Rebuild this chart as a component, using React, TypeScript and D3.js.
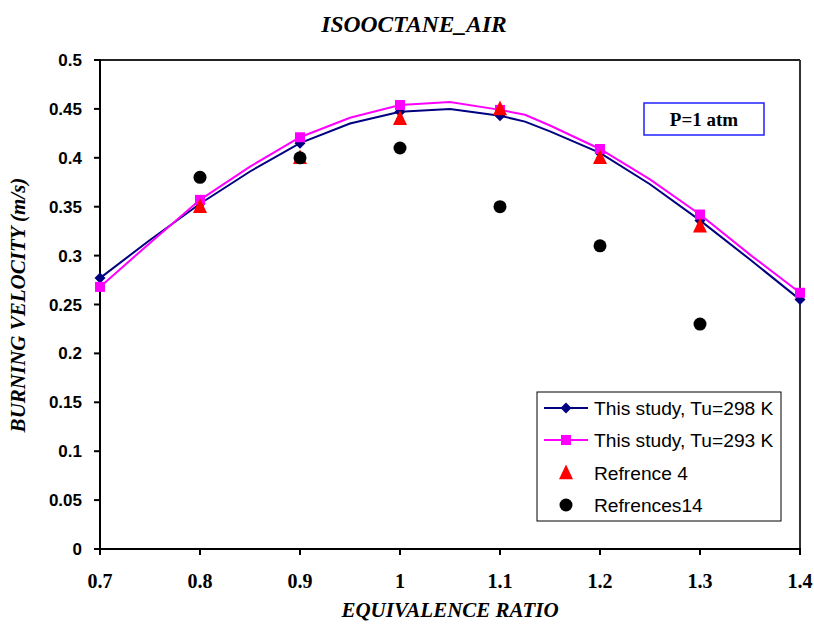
import React from "react";
import * as d3 from "d3";

// Computed flame speed curves (fine grid), equivalence ratio vs burning velocity
const phiFine = [0.7, 0.75, 0.8, 0.85, 0.9, 0.95, 1.0, 1.05, 1.1, 1.125, 1.15, 1.2, 1.25, 1.3, 1.35, 1.4];
const study298 = [0.277, 0.316, 0.353, 0.386, 0.415, 0.435, 0.447, 0.45, 0.443, 0.437, 0.427, 0.405, 0.373, 0.336, 0.296, 0.255];
const study293 = [0.268, 0.313, 0.357, 0.391, 0.421, 0.441, 0.454, 0.457, 0.449, 0.444, 0.433, 0.409, 0.378, 0.342, 0.301, 0.262];

// Marker positions of the computed series
const phiMarks = [0.7, 0.8, 0.9, 1.0, 1.1, 1.2, 1.3, 1.4];
const marks298 = [0.277, 0.353, 0.415, 0.447, 0.443, 0.405, 0.336, 0.255];
const marks293 = [0.268, 0.357, 0.421, 0.454, 0.449, 0.409, 0.342, 0.262];

// Literature data
const phiRef = [0.8, 0.9, 1.0, 1.1, 1.2, 1.3];
const ref4 = [0.35, 0.4, 0.44, 0.45, 0.4, 0.33];
const ref14 = [0.38, 0.4, 0.41, 0.35, 0.31, 0.23];

const xTicks = [0.7, 0.8, 0.9, 1.0, 1.1, 1.2, 1.3, 1.4];
const xTickLabels = ["0.7", "0.8", "0.9", "1", "1.1", "1.2", "1.3", "1.4"];
const yTicks = [0, 0.05, 0.1, 0.15, 0.2, 0.25, 0.3, 0.35, 0.4, 0.45, 0.5];
const yTickLabels = ["0", "0.05", "0.1", "0.15", "0.2", "0.25", "0.3", "0.35", "0.4", "0.45", "0.5"];

const legendLabels = ["This study, Tu=298 K", "This study, Tu=293 K", "Refrence 4", "Refrences14"];

const W = 814;
const H = 624;
const left = 100, right = 800, top = 60, bottom = 549;

const BLUE = "#000080";
const MAGENTA = "#FF00FF";
const RED = "#FF0000";

export default function App() {
  const x = d3.scaleLinear().domain([0.7, 1.4]).range([left, right]);
  const y = d3.scaleLinear().domain([0, 0.5]).range([bottom, top]);

  const line = d3
    .line<[number, number]>()
    .x((d) => x(d[0]))
    .y((d) => y(d[1]));

  const path298 = line(phiFine.map((p, i) => [p, study298[i]]) as [number, number][]) || "";
  const path293 = line(phiFine.map((p, i) => [p, study293[i]]) as [number, number][]) || "";

  const diamond = (cx: number, cy: number, r: number) =>
    `M${cx},${cy - r}L${cx + r},${cy}L${cx},${cy + r}L${cx - r},${cy}Z`;
  const triangle = (cx: number, cy: number, s: number) =>
    `M${cx},${cy - s * 0.6}L${cx + s / 2},${cy + s * 0.45}L${cx - s / 2},${cy + s * 0.45}Z`;

  const legX = 537, legY = 392, legW = 244, legH = 129;
  const rowY = [408, 440, 473, 505];

  return (
    <svg
      width={W}
      height={H}
      style={{ position: "absolute", left: 0, top: 0, background: "#fff" }}
      xmlns="http://www.w3.org/2000/svg"
    >
      <rect x={0} y={0} width={W} height={H} fill="#fff" />

      {/* title */}
      <text
        x={414}
        y={32}
        textAnchor="middle"
        fontFamily="'Liberation Serif', 'Times New Roman', serif"
        fontWeight="bold"
        fontStyle="italic"
        fontSize={23.5}
      >
        ISOOCTANE_AIR
      </text>

      {/* plot frame */}
      <line x1={left} y1={top} x2={right} y2={top} stroke="#222" strokeWidth={2} />
      <line x1={right} y1={top} x2={right} y2={bottom} stroke="#333" strokeWidth={2} />
      <line x1={left} y1={top - 1} x2={left} y2={bottom + 1} stroke="#000" strokeWidth={2} />
      <line x1={left - 1} y1={bottom} x2={right + 1} y2={bottom} stroke="#000" strokeWidth={2} />

      {/* y ticks */}
      {yTicks.map((t, i) => (
        <g key={"y" + i}>
          <line x1={left - 6} x2={left} y1={y(t)} y2={y(t)} stroke="#000" strokeWidth={2} />
          <text
            x={82}
            y={y(t) + 6}
            textAnchor="end"
            fontFamily="'Liberation Sans', Arial, sans-serif"
            fontWeight="bold"
            fontSize={17}
          >
            {yTickLabels[i]}
          </text>
        </g>
      ))}

      {/* x ticks */}
      {xTicks.map((t, i) => (
        <g key={"x" + i}>
          <line x1={x(t)} x2={x(t)} y1={bottom} y2={bottom + 6} stroke="#000" strokeWidth={2} />
          <text
            x={x(t)}
            y={588}
            textAnchor="middle"
            fontFamily="'Liberation Serif', 'Times New Roman', serif"
            fontWeight="bold"
            fontSize={20}
          >
            {xTickLabels[i]}
          </text>
        </g>
      ))}

      {/* axis titles */}
      <text
        x={450}
        y={617}
        textAnchor="middle"
        fontFamily="'Liberation Serif', 'Times New Roman', serif"
        fontWeight="bold"
        fontStyle="italic"
        fontSize={21}
      >
        EQUIVALENCE RATIO
      </text>
      <text
        transform={`translate(25, ${305}) rotate(-90)`}
        textAnchor="middle"
        fontFamily="'Liberation Serif', 'Times New Roman', serif"
        fontWeight="bold"
        fontStyle="italic"
        fontSize={21}
      >
        BURNING VELOCITY (m/s)
      </text>

      {/* computed curves */}
      <path d={path298} fill="none" stroke={BLUE} strokeWidth={2} />
      <path d={path293} fill="none" stroke={MAGENTA} strokeWidth={2} />

      {phiMarks.map((p, i) => (
        <path key={"d" + i} d={diamond(x(p), y(marks298[i]), 5.5)} fill={BLUE} />
      ))}
      {phiMarks.map((p, i) => (
        <rect
          key={"s" + i}
          x={x(p) - 5}
          y={y(marks293[i]) - 5}
          width={10}
          height={10}
          fill={MAGENTA}
        />
      ))}

      {/* reference data */}
      {phiRef.map((p, i) => (
        <path key={"t" + i} d={triangle(x(p), y(ref4[i]), 14)} fill={RED} />
      ))}
      {phiRef.map((p, i) => (
        <circle key={"c" + i} cx={x(p)} cy={y(ref14[i])} r={6.5} fill="#000" />
      ))}

      {/* pressure annotation */}
      <rect x={644} y={103} width={120} height={32} fill="#fff" stroke="#2020ff" strokeWidth={1.5} />
      <text
        x={704}
        y={126}
        textAnchor="middle"
        fontFamily="'Liberation Serif', 'Times New Roman', serif"
        fontWeight="bold"
        fontSize={19}
      >
        P=1 atm
      </text>

      {/* legend */}
      <rect x={legX} y={legY} width={legW} height={legH} fill="#fff" stroke="#000" strokeWidth={1} />
      <line x1={544} x2={588} y1={rowY[0]} y2={rowY[0]} stroke={BLUE} strokeWidth={2} />
      <path d={diamond(566, rowY[0], 5.5)} fill={BLUE} />
      <line x1={544} x2={588} y1={rowY[1]} y2={rowY[1]} stroke={MAGENTA} strokeWidth={2} />
      <rect x={561} y={rowY[1] - 5} width={10} height={10} fill={MAGENTA} />
      <path d={triangle(566, rowY[2], 14)} fill={RED} />
      <circle cx={566} cy={rowY[3]} r={6.5} fill="#000" />
      {legendLabels.map((l, i) => (
        <text
          key={"l" + i}
          x={594}
          y={rowY[i] + 7}
          fontFamily="'Liberation Sans', Arial, sans-serif"
          fontSize={19.2}
        >
          {l}
        </text>
      ))}
    </svg>
  );
}
